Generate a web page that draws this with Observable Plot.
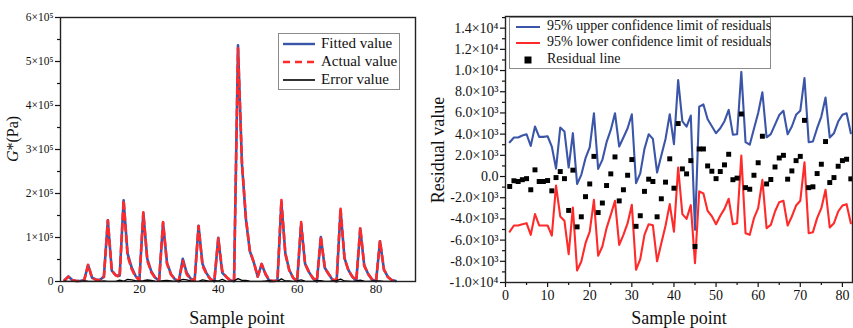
<!DOCTYPE html>
<html>
<head>
<meta charset="utf-8">
<script src="https://cdn.jsdelivr.net/npm/d3@7"></script>
<script src="https://cdn.jsdelivr.net/npm/@observablehq/plot@0.6"></script>
<style>
  html, body { margin: 0; padding: 0; background: #fff; }
  #wrap { position: relative; width: 853px; height: 328px; overflow: hidden; font-family: "Liberation Serif", "Times New Roman", serif; color: #111; }
  #wrap svg, #wrap svg text { font-family: "Liberation Serif", "Times New Roman", serif !important; }
  .panel { position: absolute; top: 0; }
  .lab { position: absolute; white-space: nowrap; line-height: 1; transform: translate(-50%, -50%); }
  .rot { transform: translate(-50%, -50%) rotate(-90deg); }
  .legend { position: absolute; background: #fff; border: 1px solid #8a8a8a; box-sizing: border-box; }
  .legend .row { position: absolute; left: 0; white-space: nowrap; line-height: 1; }
  .legend svg { position: absolute; }
</style>
</head>
<body>
<div id="wrap"></div>
<script>
// ---------------- data ----------------
// Left panel: G* (values in units of 10^3 Pa), sample points 1..85
const actualK = [2, 11, 3, 1, 1, 2, 38, 8, 4, 3, 10, 139, 25, 14, 10, 185, 59, 29, 11, 3,
  157, 48, 21, 8, 2, 135, 40, 16, 5, 2, 47, 16, 5, 2, 126, 36, 17, 5, 2, 98,
  25, 11, 3, 2, 530, 270, 145, 70, 44, 11, 40, 17, 3, 1, 2, 186, 63, 25, 8, 2,
  135, 40, 21, 8, 2, 103, 31, 17, 5, 2, 167, 52, 25, 11, 3, 123, 36, 17, 5, 2,
  93, 27, 10, 3, 1];
const fittedK = [2.9, 11.4, 3.5, 1.3, 1.2, 3.3, 37.4, 8.5, 4.5, 3.4, 11.4, 139.1, 24.5, 14.2, 13.2, 184.4, 63.8, 32.8, 12.9, 3.7,
  155.1, 51.4, 23.5, 8.9, 1.8, 133.2, 42.3, 17.3, 4.9, 0.4, 51.7, 19.7, 6.4, 2.3, 126.5, 39.8, 19.1, 5.5, 0.3, 99.1,
  20.0, 10.3, 2.8, 0.5, 536.6, 267.4, 142.4, 69.0, 43.5, 11.2, 39.5, 15.9, 0.9, 1.3, 2.2, 180.1, 64.1, 26.2, 7.9, 0.7,
  131.2, 40.7, 21.3, 7.1, 0.3, 101.0, 31.3, 16.5, 3.5, 0.1, 161.7, 53.1, 26.0, 10.7, 1.8, 119.7, 36.6, 17.1, 4.0, 0.5,
  91.4, 27.2, 10.3, 3.2, 1.1];
const errorK = [0.9, 0.4, 0.5, 0.3, 0.2, 1.3, 0.6, 0.5, 0.5, 0.4, 1.4, 0.1, 0.5, 0.2, 3.2, 0.6, 4.8, 3.8, 1.9, 0.7,
  1.9, 3.4, 2.5, 0.9, 0.3, 1.9, 2.3, 1.3, 0.1, 1.6, 4.7, 3.7, 1.4, 0.3, 0.5, 3.8, 2.1, 0.5, 1.7, 1.1,
  5.0, 0.7, 0.3, 1.5, 6.6, 2.6, 2.6, 1.0, 0.5, 0.2, 0.5, 1.1, 2.1, 0.3, 0.2, 5.9, 1.1, 1.2, 0.1, 1.3,
  3.8, 0.7, 0.3, 0.9, 1.8, 2.0, 0.3, 0.5, 1.5, 1.9, 5.3, 1.1, 1.0, 0.3, 1.2, 3.3, 0.6, 0.1, 1.0, 1.5,
  1.6, 0.2, 0.3, 0.2, 0.1];

// Right panel: residuals (units of 10^3), sample points 1..82
const residK = [-0.94, -0.40, -0.47, -0.30, -0.20, -1.25, 0.63, -0.47, -0.47, -0.38, -1.35, -0.10, 0.47, -0.20, -3.20, 0.60, -4.75, -3.80, -1.90, -0.70,
  1.90, -3.40, -2.50, -0.85, 0.25, 1.85, -2.30, -1.25, 0.12, 1.60, -4.70, -3.70, -1.40, -0.25, -0.47, -3.80, -2.10, -0.53, 1.67, -1.10,
  5.00, 0.72, 0.25, 1.50, -6.60, 2.60, 2.60, 1.00, 0.50, -0.20, 0.47, 1.10, 2.10, -0.30, -0.15, 5.90, -1.05, -1.20, 0.12, 1.30,
  3.80, -0.70, -0.28, 0.90, 1.75, 2.00, -0.25, 0.53, 1.50, 1.90, 5.30, -1.05, -0.97, 0.28, 1.16, 3.30, -0.57, -0.10, 0.97, 1.50,
  1.63, -0.22];
const upperK = [3.24, 3.68, 3.68, 3.87, 3.99, 2.89, 4.72, 3.74, 3.74, 3.80, 2.83, 0.75, 4.62, 4.25, 0.85, 4.09, -0.70, 0.16, 1.73, 2.74,
  5.97, 0.72, 1.57, 3.24, 4.40, 5.97, 2.83, 3.68, 4.56, 5.88, -0.63, 0.30, 2.61, 3.99, 3.55, 0.38, 1.98, 3.55, 5.88, 3.05,
  9.10, 5.20, 4.70, 5.75, -5.03, 6.60, 6.80, 5.40, 4.75, 4.09, 4.56, 5.22, 6.29, 3.95, 3.99, 9.87, 3.25, 3.00, 4.50, 6.00,
  7.95, 3.70, 4.00, 4.90, 5.80, 6.20, 3.99, 4.72, 5.82, 6.20, 9.30, 3.24, 3.30, 4.56, 5.66, 7.45, 3.68, 4.09, 5.19, 5.82,
  5.97, 4.09];
const lowerK = [-5.19, -4.62, -4.62, -4.50, -4.40, -5.50, -3.55, -4.62, -4.62, -4.62, -5.57, -0.85, -3.77, -4.18, -7.33, -2.92, -8.87, -8.02, -6.29, -5.19,
  -2.20, -7.48, -6.60, -4.87, -3.62, -2.29, -6.45, -5.50, -4.40, -2.67, -8.80, -7.80, -5.50, -4.50, -4.60, -8.00, -6.30, -4.65, -2.60, -5.20,
  0.85, -3.55, -4.00, -2.70, -8.18, -1.40, -1.60, -3.25, -3.75, -4.50, -3.70, -3.05, -2.10, -4.50, -4.40, 1.98, -5.35, -5.50, -3.93, -2.99,
  -0.31, -4.87, -4.56, -3.30, -2.42, -2.29, -4.62, -3.77, -2.74, -2.29, 1.35, -5.35, -5.25, -3.93, -2.99, -1.25, -4.81, -4.40, -3.30, -2.74,
  -2.61, -4.40];

// tick values
const leftYTicks = [0, 1e5, 2e5, 3e5, 4e5, 5e5, 6e5];
const leftYMinor = [0.5e5, 1.5e5, 2.5e5, 3.5e5, 4.5e5, 5.5e5];
const leftXTicks = [0, 20, 40, 60, 80];
const rightYTicks = [-10000, -8000, -6000, -4000, -2000, 0, 2000, 4000, 6000, 8000, 10000, 12000, 14000];
const rightYMinor = [-9000, -7000, -5000, -3000, -1000, 1000, 3000, 5000, 7000, 9000, 11000, 13000, 15000];
const rightXTicks = [0, 10, 20, 30, 40, 50, 60, 70, 80];
const rightXMinor = [5, 15, 25, 35, 45, 55, 65, 75];

// series labels
const leftSeries = ["Fitted value", "Actual value", "Error value"];
const rightSeries = ["95% upper confidence limit of residuals", "95% lower confidence limit of residuals", "Residual line"];

const BLUE = "#3b55a8";
const RED = "#ff2a2a";
const FONT = "Liberation Serif, Times New Roman, serif";

// ---------------- build tables ----------------
const leftRows = actualK.map((a, i) => ({ n: i + 1, actual: a * 1000, fitted: fittedK[i] * 1000, error: errorK[i] * 1000 }));
const rightRows = residK.map((r, i) => ({ n: i + 1, resid: r * 1000, upper: upperK[i] * 1000, lower: lowerK[i] * 1000 }));

const fmtL = d => d === 0 ? "0" : `${d / 1e5}×10⁵`;
const fmtR = d => {
  if (d === 0) return "0.0";
  if (Math.abs(d) >= 10000) return `${(d / 10000).toFixed(1)}×10⁴`;
  return `${(d / 1000).toFixed(1)}×10³`;
};

const left = Plot.plot({
  width: 430, height: 328,
  marginLeft: 60, marginRight: 15, marginTop: 17, marginBottom: 47,
  style: { fontFamily: FONT, fontSize: "12px", color: "#111", background: "transparent", overflow: "visible" },
  x: { domain: [0, 90] },
  y: { domain: [0, 6e5] },
  marks: [
    Plot.axisY({ ticks: leftYTicks, tickFormat: fmtL, tickSize: 5, tickPadding: 2, label: null, fontSize: 11.5, fontFamily: FONT, strokeWidth: 1.2 }),
    Plot.axisY({ ticks: leftYMinor, tickFormat: () => "", tickSize: 3, label: null, strokeWidth: 1.2 }),
    Plot.axisX({ ticks: leftXTicks, tickSize: 0, tickPadding: 3, label: null, fontSize: 12.5, fontFamily: FONT }),
    Plot.line(leftRows, { x: "n", y: "fitted", stroke: BLUE, strokeWidth: 2.6 }),
    Plot.line(leftRows, { x: "n", y: "actual", stroke: RED, strokeWidth: 2.6, strokeDasharray: "6,5" }),
    Plot.line(leftRows, { x: "n", y: "error", stroke: "#000", strokeWidth: 1.3 }),
    Plot.frame({ stroke: "#222", strokeWidth: 1.4 })
  ]
});

const right = Plot.plot({
  width: 423, height: 328,
  marginLeft: 75, marginRight: 1, marginTop: 16, marginBottom: 46,
  style: { fontFamily: FONT, fontSize: "13px", color: "#111", background: "transparent", overflow: "visible" },
  x: { domain: [0, 82.4] },
  y: { domain: [-10000, 15100] },
  marks: [
    Plot.axisY({ ticks: rightYTicks, tickFormat: fmtR, tickSize: 5, tickPadding: 2, label: null, fontSize: 14, fontFamily: FONT, strokeWidth: 1.2 }),
    Plot.axisY({ ticks: rightYMinor, tickFormat: () => "", tickSize: 3, label: null, strokeWidth: 1.2 }),
    Plot.axisX({ ticks: rightXTicks, tickSize: 5, tickPadding: 3, label: null, fontSize: 14, fontFamily: FONT, strokeWidth: 1.2 }),
    Plot.axisX({ ticks: rightXMinor, tickFormat: () => "", tickSize: 3, label: null, strokeWidth: 1.2 }),
    Plot.line(rightRows, { x: "n", y: "upper", stroke: BLUE, strokeWidth: 2.1 }),
    Plot.line(rightRows, { x: "n", y: "lower", stroke: RED, strokeWidth: 2.1 }),
    Plot.dot(rightRows, { x: "n", y: "resid", symbol: "square", r: 2.8, fill: "#000", stroke: "none" }),
    Plot.frame({ stroke: "#222", strokeWidth: 1.4 })
  ]
});

const wrap = document.getElementById("wrap");
left.classList.add("panel"); left.style.left = "0px";
right.classList.add("panel"); right.style.left = "430px";
wrap.appendChild(left);
wrap.appendChild(right);

function addLabel(html, x, y, size, rotate) {
  const d = document.createElement("div");
  d.className = "lab" + (rotate ? " rot" : "");
  d.style.left = x + "px"; d.style.top = y + "px"; d.style.fontSize = size + "px";
  d.innerHTML = html;
  wrap.appendChild(d);
}
addLabel("Sample point", 237, 318, 18);
addLabel("Sample point", 679, 318, 18);
addLabel("<i>G</i>*(Pa)", 13, 139, 16, true);
addLabel("Residual value", 438, 150, 18, true);

function addLegend(box, entries) {
  const lg = document.createElement("div");
  lg.className = "legend";
  Object.assign(lg.style, { left: box.x + "px", top: box.y + "px", width: box.w + "px", height: box.h + "px" });
  entries.forEach(e => {
    const s = document.createElementNS("http://www.w3.org/2000/svg", "svg");
    s.setAttribute("width", 40); s.setAttribute("height", 12);
    s.style.left = (e.sx - 1) + "px"; s.style.top = (e.y - 6 - 1) + "px";
    if (e.type === "line") {
      const l = document.createElementNS("http://www.w3.org/2000/svg", "line");
      l.setAttribute("x1", 0); l.setAttribute("x2", e.sw); l.setAttribute("y1", 6); l.setAttribute("y2", 6);
      l.setAttribute("stroke", e.color); l.setAttribute("stroke-width", e.width);
      if (e.dash) l.setAttribute("stroke-dasharray", e.dash);
      s.appendChild(l);
    } else {
      const r = document.createElementNS("http://www.w3.org/2000/svg", "rect");
      r.setAttribute("x", e.sw / 2 - 3.5); r.setAttribute("y", 2.5); r.setAttribute("width", 7); r.setAttribute("height", 7);
      r.setAttribute("fill", "#000");
      s.appendChild(r);
    }
    lg.appendChild(s);
    const t = document.createElement("div");
    t.className = "row";
    t.style.left = e.tx + "px"; t.style.top = (e.y - box.fs * 0.55 - 1) + "px"; t.style.fontSize = box.fs + "px";
    t.textContent = e.label;
    lg.appendChild(t);
  });
  wrap.appendChild(lg);
}

addLegend({ x: 278, y: 33, w: 122, h: 57, fs: 15 }, [
  { type: "line", label: leftSeries[0], color: BLUE, width: 2.4, sx: 5, sw: 32, tx: 42, y: 11 },
  { type: "line", label: leftSeries[1], color: RED, width: 2.4, dash: "7,5", sx: 5, sw: 32, tx: 42, y: 29 },
  { type: "line", label: leftSeries[2], color: "#000", width: 1.6, sx: 5, sw: 32, tx: 42, y: 47 }
]);
addLegend({ x: 509, y: 17, w: 262, h: 52, fs: 14 }, [
  { type: "line", label: rightSeries[0], color: BLUE, width: 2, sx: 7, sw: 24, tx: 37, y: 10 },
  { type: "line", label: rightSeries[1], color: RED, width: 2, sx: 7, sw: 24, tx: 37, y: 26 },
  { type: "square", label: rightSeries[2], sx: 7, sw: 24, tx: 37, y: 43 }
]);
</script>
</body>
</html>
